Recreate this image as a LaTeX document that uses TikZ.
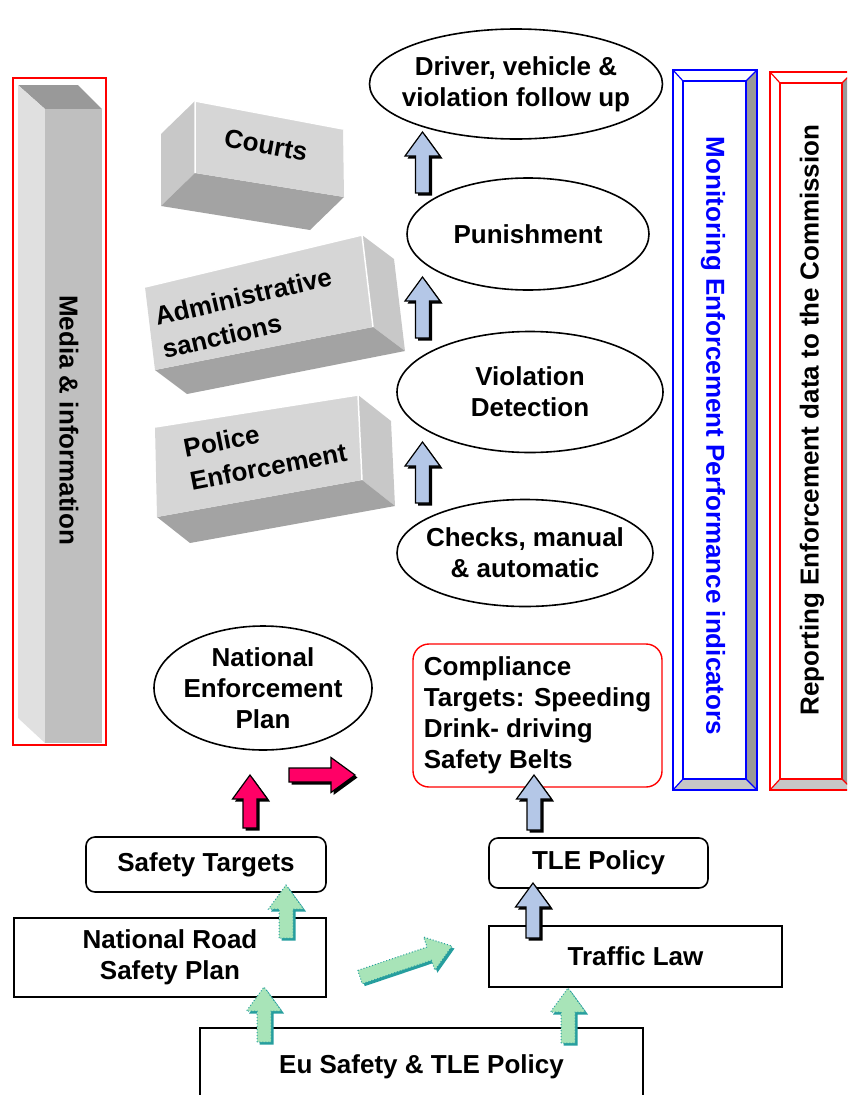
\documentclass[tikz,border=0pt]{standalone}
\usepackage{fontspec}
\setmainfont{Liberation Sans}
\usetikzlibrary{shapes.geometric,calc}

\definecolor{arrowblue}{RGB}{180,199,231}
\definecolor{arrowpink}{RGB}{255,0,102}
\definecolor{arrowgreen}{RGB}{168,228,184}
\definecolor{arrowteal}{RGB}{38,158,158}
\definecolor{boxfront}{RGB}{214,214,214}
\definecolor{boxside}{RGB}{200,200,200}
\definecolor{boxbottom}{RGB}{163,163,163}

% block arrow with shadow: shadow colour, body style, tail, tip
\newcommand{\blockarrow}[4]{%
  \coordinate (hb) at ($(#4)!24pt!(#3)$);
  \fill[#1, transform canvas={xshift=2.5pt, yshift=-2.5pt}]
    ($(#3)!7pt!90:(#4)$) -- ($(hb)!7pt!90:(#4)$) -- ($(hb)!17.5pt!90:(#4)$) -- (#4)
    -- ($(hb)!17.5pt!-90:(#4)$) -- ($(hb)!7pt!-90:(#4)$) -- ($(#3)!7pt!-90:(#4)$) -- cycle;
  \path[#2]
    ($(#3)!7pt!90:(#4)$) -- ($(hb)!7pt!90:(#4)$) -- ($(hb)!17.5pt!90:(#4)$) -- (#4)
    -- ($(hb)!17.5pt!-90:(#4)$) -- ($(hb)!7pt!-90:(#4)$) -- ($(#3)!7pt!-90:(#4)$) -- cycle;
}

% bevelled bar: colour, x1, y1, x2, y2
\newcommand{\bevelbar}[5]{%
  \fill[black!40] (#4,#3) -- ({#4-11},{#3+11}) -- ({#4-11},{#5-11}) -- (#4,#5) -- cycle;
  \fill[black!22] (#2,#5) -- ({#2+10},{#5-11}) -- ({#4-11},{#5-11}) -- (#4,#5) -- cycle;
  \draw[#1, line width=1.5pt] (#2,#3) rectangle (#4,#5);
  \draw[#1, line width=1.5pt] ({#2+10},{#3+11}) rectangle ({#4-11},{#5-11});
  \draw[#1, line width=1.2pt] (#2,#3) -- ({#2+10},{#3+11}) (#4,#3) -- ({#4-11},{#3+11})
    (#2,#5) -- ({#2+10},{#5-11}) (#4,#5) -- ({#4-11},{#5-11});
}

\begin{document}
\begin{tikzpicture}[x=1pt, y=-1pt,
    every node/.style={font=\fontsize{26}{31}\selectfont\bfseries, inner sep=0pt},
    oval/.style={ellipse, draw, line width=1.6pt, align=center, inner xsep=-40pt, inner ysep=-15pt},
    plainbox/.style={draw, line width=1.6pt, align=center},
    roundbox/.style={plainbox, rounded corners=9pt},
    slabtext/.style={align=left, font=\fontsize{26}{34}\selectfont\bfseries},
    bluebody/.style={fill=arrowblue, draw=black, line width=1.2pt},
    pinkbody/.style={fill=arrowpink, draw=black, line width=1.2pt},
    greenbody/.style={fill=arrowgreen, draw=arrowteal, dotted, line width=1pt}]
\clip (0,0) rectangle (847,1095);

% Media bar
\fill[black!40] (18,85) -- (78,85) -- (102,109) -- (45,109) -- cycle;
\fill[black!12] (18,85) -- (45,109) -- (45,743) -- (18,718) -- cycle;
\fill[black!25] (45,109) rectangle (102,743);
\draw[red, line width=2.5pt] (13,78) rectangle (106,745);
\node[rotate=-90] (media) at (69,420) {Media \& information};

% Side bars
\bevelbar{blue}{673}{70}{757}{790}
\node[rotate=-90, text=blue] (mon) at (713,436) {Monitoring Enforcement Performance indicators};
\bevelbar{red}{770}{72}{853}{790}
\node[rotate=90] (rep) at (812,420) {Reporting Enforcement data to the Commission};

% Grey blocks
\fill[boxside] (161,134) -- (195,101) -- (195,173) -- (161,206) -- cycle;
\fill[boxbottom] (161,206) -- (195,173) -- (344,197) -- (310,230) -- cycle;
\fill[boxfront] (195,101) -- (343,129) -- (344,197) -- (195,173) -- cycle;
\draw[white, line width=1.5pt] (195,173) -- (195,101) -- (343,129);
\node[rotate=-10.5] (courts) at (266,145) {Courts};

\fill[boxside] (362,235) -- (394,259) -- (405,351) -- (373,327) -- cycle;
\fill[boxbottom] (155,370) -- (373,327) -- (405,351) -- (187,394) -- cycle;
\fill[boxfront] (145,287) -- (362,235) -- (373,327) -- (155,370) -- cycle;
\draw[white, line width=1.5pt] (145,287) -- (362,235) -- (373,327);
\node[slabtext, rotate=13] (adm) at (247,313) {Administrative\\sanctions};

\fill[boxside] (358,395) -- (391,421) -- (395,506) -- (362,480) -- cycle;
\fill[boxbottom] (157,517) -- (362,480) -- (395,506) -- (190,543) -- cycle;
\fill[boxfront] (155,427) -- (358,395) -- (362,480) -- (157,517) -- cycle;
\draw[white, line width=1.5pt] (155,427) -- (358,395) -- (362,480);
\node[slabtext, rotate=11] (pol) at (265,450) {Police\\Enforcement};

% Ellipses
\node[oval, minimum width=293pt, minimum height=110pt] (drv) at (516,84) {Driver, vehicle \&\\violation follow up};
\node[oval, minimum width=242pt, minimum height=112pt] (pun) at (528,234) {Punishment};
\node[oval, minimum width=266pt, minimum height=121pt] (vio) at (530,392) {Violation\\Detection};
\node[oval, minimum width=256pt, minimum height=107pt] (chk) at (525,553) {Checks, manual\\\& automatic};
\node[oval, minimum width=218pt, minimum height=124pt] (nep) at (263,688) {National\\Enforcement\\Plan};

% Compliance
\node[roundbox, draw=red, rounded corners=16pt, line width=1.4pt, align=left,
  minimum width=249pt, minimum height=143pt] (cmp) at (537.5,715.5)
  {Compliance\\Targets: Speeding\\Drink- driving\\Safety Belts};

% Bottom boxes
\node[roundbox, minimum width=240pt, minimum height=55pt] (stg) at (206,864.5) {Safety Targets};
\node[roundbox, minimum width=219pt, minimum height=50pt] (tlep) at (598.5,863) {TLE Policy};
\node[plainbox, minimum width=312pt, minimum height=79pt] (nrsp) at (170,957.5) {National Road\\Safety Plan};
\node[plainbox, minimum width=293pt, minimum height=61pt] (tlaw) at (635.5,956.5) {Traffic Law};
\node[plainbox, minimum width=443pt, minimum height=78pt] (eu) at (421.5,1067) {Eu Safety \& TLE Policy};

% Arrow ends
\coordinate (chk-out) at (422.5,503);  \coordinate (vio-in) at (422.5,442);
\coordinate (vio-out) at (422.5,338);  \coordinate (pun-in) at (422.5,277);
\coordinate (pun-out) at (422.5,193);  \coordinate (drv-in) at (422.5,132);
\coordinate (tlep-out) at (534,830);   \coordinate (cmp-in) at (534,775);
\coordinate (tlaw-out) at (533,938);   \coordinate (tlep-in) at (533,883);
\coordinate (stg-out) at (250,828);    \coordinate (nep-in) at (250,775);
\coordinate (nep-out) at (289,775);    \coordinate (cmp-left) at (355,775);
\coordinate (nrsp-out) at (286,938);   \coordinate (stg-in) at (286,885);
\coordinate (eu-out1) at (264,1042);   \coordinate (nrsp-in) at (264,987);
\coordinate (eu-out2) at (568,1043);   \coordinate (tlaw-in) at (568,988);
\coordinate (nrsp-right) at (360,977); \coordinate (tlaw-left) at (452,946);

% Arrows
\blockarrow{black}{bluebody}{chk-out}{vio-in}
\blockarrow{black}{bluebody}{vio-out}{pun-in}
\blockarrow{black}{bluebody}{pun-out}{drv-in}
\blockarrow{black}{bluebody}{tlep-out}{cmp-in}
\blockarrow{black}{bluebody}{tlaw-out}{tlep-in}
\blockarrow{black}{pinkbody}{stg-out}{nep-in}
\blockarrow{black}{pinkbody}{nep-out}{cmp-left}
\blockarrow{arrowteal}{greenbody}{nrsp-out}{stg-in}
\blockarrow{arrowteal}{greenbody}{eu-out1}{nrsp-in}
\blockarrow{arrowteal}{greenbody}{eu-out2}{tlaw-in}
\blockarrow{arrowteal}{greenbody}{nrsp-right}{tlaw-left}

\end{tikzpicture}
\end{document}
